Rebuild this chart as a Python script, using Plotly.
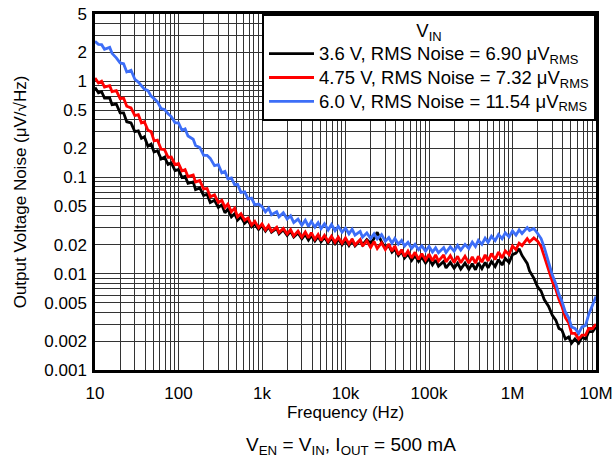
import plotly.graph_objects as go

# E24 frequency grid (Hz): mantissas within a decade, and decades
mantissas = [1.0, 1.1, 1.2, 1.3, 1.5, 1.6, 1.8, 2.0, 2.2, 2.4, 2.7, 3.0,
             3.3, 3.6, 3.9, 4.3, 4.7, 5.1, 5.6, 6.2, 6.8, 7.5, 8.2, 9.1]
decades = [1e1, 1e2, 1e3, 1e4, 1e5, 1e6]
freq_hz = [round(m * d, 6) for d in decades for m in mantissas] + [1e7]

noise_3v6 = [
    0.86, 0.76, 0.78, 0.67, 0.67, 0.57, 0.58, 0.47, 0.47, 0.38, 0.37, 0.3,
    0.305, 0.255, 0.265, 0.212, 0.222, 0.184, 0.19, 0.156, 0.163, 0.137, 0.142, 0.118,
    0.121, 0.1, 0.103, 0.087, 0.09, 0.075, 0.078, 0.065, 0.067, 0.055, 0.058, 0.049,
    0.052, 0.043, 0.047, 0.039, 0.042, 0.036, 0.039, 0.0335, 0.036, 0.0307, 0.0328, 0.0288,
    0.0318, 0.0278, 0.0307, 0.027, 0.0296, 0.026, 0.0286, 0.025, 0.0276, 0.0241, 0.0266, 0.0231,
    0.0256, 0.0224, 0.025, 0.0219, 0.0244, 0.0215, 0.0239, 0.021, 0.0234, 0.0205, 0.0229, 0.02,
    0.0224, 0.0196, 0.0221, 0.0195, 0.0222, 0.0199, 0.0226, 0.0206, 0.0232, 0.027, 0.0215, 0.0185,
    0.0196, 0.0168, 0.018, 0.0155, 0.017, 0.0146, 0.016, 0.0138, 0.0155, 0.0134, 0.0149, 0.0129,
    0.0144, 0.0124, 0.0139, 0.012, 0.0134, 0.0115, 0.0131, 0.0114, 0.0129, 0.0112, 0.0129, 0.0111,
    0.0127, 0.011, 0.0129, 0.0113, 0.0131, 0.0115, 0.0134, 0.0119, 0.014, 0.0123, 0.0144, 0.0131,
    0.0158, 0.0164, 0.0182, 0.0155, 0.0128, 0.0107, 0.009, 0.0073, 0.0066, 0.0054, 0.0046, 0.0037,
    0.0033, 0.0027, 0.0026, 0.0021, 0.0022, 0.0019, 0.0021, 0.0019, 0.0022, 0.0021, 0.0025, 0.0025,
    0.0028,
]

noise_4v75 = [
    1.08, 0.96, 1.0, 0.87, 0.9, 0.78, 0.8, 0.66, 0.67, 0.55, 0.53, 0.44,
    0.45, 0.37, 0.38, 0.31, 0.3, 0.24, 0.245, 0.197, 0.195, 0.162, 0.163, 0.136,
    0.14, 0.117, 0.121, 0.102, 0.106, 0.09, 0.093, 0.076, 0.077, 0.063, 0.066, 0.055,
    0.058, 0.049, 0.053, 0.044, 0.048, 0.039, 0.042, 0.036, 0.038, 0.032, 0.035, 0.03,
    0.033, 0.0285, 0.0318, 0.0276, 0.0305, 0.0268, 0.0296, 0.0258, 0.0287, 0.0247, 0.0277, 0.024,
    0.0272, 0.0236, 0.0268, 0.0228, 0.0256, 0.0222, 0.0251, 0.0216, 0.0246, 0.0212, 0.024, 0.0207,
    0.0236, 0.0204, 0.023, 0.0199, 0.0226, 0.0194, 0.022, 0.0188, 0.0216, 0.0183, 0.021, 0.0179,
    0.0204, 0.0172, 0.0194, 0.0158, 0.0178, 0.0151, 0.0172, 0.0146, 0.0167, 0.0141, 0.0162, 0.0139,
    0.016, 0.0136, 0.0157, 0.0135, 0.0157, 0.0133, 0.0154, 0.0131, 0.0152, 0.013, 0.0152, 0.0129,
    0.015, 0.0129, 0.0152, 0.0132, 0.0157, 0.0136, 0.0162, 0.0141, 0.0168, 0.0146, 0.0173, 0.0158,
    0.0194, 0.0178, 0.0208, 0.0196, 0.0232, 0.0214, 0.0236, 0.0218, 0.0192, 0.0152, 0.0112, 0.0083,
    0.0069, 0.0054, 0.0046, 0.0035, 0.0031, 0.0024, 0.0024, 0.0021, 0.0023, 0.0023, 0.0027, 0.0027,
    0.003,
]

noise_6v0 = [
    2.6, 2.42, 2.4, 2.15, 2.25, 1.95, 1.75, 1.55, 1.52, 1.25, 1.3, 1.05,
    0.98, 0.9, 0.83, 0.8, 0.7, 0.66, 0.61, 0.52, 0.51, 0.46, 0.43, 0.37,
    0.37, 0.31, 0.32, 0.27, 0.25, 0.215, 0.205, 0.17, 0.17, 0.158, 0.133, 0.136,
    0.112, 0.116, 0.097, 0.099, 0.084, 0.085, 0.07, 0.071, 0.06, 0.061, 0.052, 0.053,
    0.05, 0.044, 0.048, 0.041, 0.044, 0.039, 0.043, 0.037, 0.04, 0.034, 0.037, 0.032,
    0.036, 0.031, 0.035, 0.0305, 0.034, 0.0295, 0.033, 0.0285, 0.0325, 0.028, 0.031, 0.027,
    0.0298, 0.026, 0.029, 0.0252, 0.0275, 0.024, 0.0265, 0.0232, 0.026, 0.023, 0.0255, 0.0218,
    0.0238, 0.0208, 0.0233, 0.0203, 0.0222, 0.0194, 0.0212, 0.0184, 0.0202, 0.0178, 0.0195, 0.0172,
    0.0192, 0.0168, 0.0186, 0.0165, 0.0187, 0.0166, 0.0191, 0.0172, 0.0197, 0.0176, 0.0202, 0.0183,
    0.0213, 0.0192, 0.0223, 0.0202, 0.0234, 0.0212, 0.0245, 0.0221, 0.0256, 0.0231, 0.0266, 0.0241,
    0.0278, 0.0252, 0.0285, 0.0262, 0.0302, 0.0282, 0.0296, 0.0262, 0.0232, 0.0188, 0.0132, 0.0097,
    0.0079, 0.0061, 0.0052, 0.004, 0.0035, 0.0028, 0.0027, 0.0024, 0.0028, 0.0029, 0.0038, 0.0047,
    0.0058,
]

series_names = [
    "3.6 V, RMS Noise = 6.90 μV<sub>RMS</sub>",
    "4.75 V, RMS Noise = 7.32 μV<sub>RMS</sub>",
    "6.0 V, RMS Noise = 11.54 μV<sub>RMS</sub>",
]
series_colors = ["#000000", "#FF0000", "#3D6EF7"]
legend_title = "V<sub>IN</sub>"

x_tick_vals = [10, 100, 1e3, 1e4, 1e5, 1e6, 1e7]
x_tick_text = ["10", "100", "1k", "10k", "100k", "1M", "10M"]
y_tick_vals = [0.001, 0.002, 0.005, 0.01, 0.02, 0.05, 0.1, 0.2, 0.5, 1, 2, 5]
y_tick_text = ["0.001", "0.002", "0.005", "0.01", "0.02", "0.05", "0.1", "0.2", "0.5", "1", "2", "5"]

digits = [1, 2, 3, 4, 5, 6, 7, 8, 9]
x_minor = [d * 10 ** e for e in range(1, 7) for d in digits] + [1e7]
y_minor = [d * 10.0 ** e for e in range(-3, 1) for d in digits if d * 10.0 ** e <= 5]

FONT = "Liberation Sans, Arial, sans-serif"
GRID = "#333333"
BIG = "<span style='font-size:18.5px'>{}</span>"

fig = go.Figure()
for vals, name, col in zip([noise_3v6, noise_4v75, noise_6v0], series_names, series_colors):
    fig.add_trace(go.Scatter(x=freq_hz, y=vals, mode="lines", name=BIG.format(name),
                             line=dict(color=col, width=2.8)))

fig.update_layout(
    width=612, height=460,
    margin=dict(l=95, r=16, t=14, b=90),
    paper_bgcolor="white", plot_bgcolor="white",
    font=dict(family=FONT, size=17, color="black"),
    showlegend=True,
    legend=dict(
        x=1, y=1, xanchor="right", yanchor="top",
        bgcolor="white", bordercolor="black", borderwidth=2,
        font=dict(family=FONT, size=16, color="black"),
        title=dict(text=BIG.format(legend_title), side="top center",
                   font=dict(family=FONT, size=16, color="black")),
        tracegroupgap=0,
        itemwidth=45,
    ),
    xaxis=dict(
        type="log", range=[1, 7], automargin=False,
        tickmode="array", tickvals=x_tick_vals, ticktext=x_tick_text,
        ticks="", ticklabelstandoff=6, ticklabeloverflow="allow",
        showgrid=True, gridcolor=GRID, gridwidth=1,
        minor=dict(tickmode="array", tickvals=x_minor, showgrid=True, gridcolor=GRID, gridwidth=1, ticks=""),
        showline=True, linecolor="black", linewidth=2.5, mirror=True,
        zeroline=False,
        title=dict(text="Frequency (Hz)", standoff=1, font=dict(family=FONT, size=17)),
    ),
    yaxis=dict(
        type="log", range=[-3, 0.69898], automargin=False,
        tickmode="array", tickvals=y_tick_vals, ticktext=y_tick_text,
        ticks="", ticklabelstandoff=2, ticklabeloverflow="allow",
        showgrid=True, gridcolor=GRID, gridwidth=1,
        minor=dict(tickmode="array", tickvals=y_minor, showgrid=True, gridcolor=GRID, gridwidth=1, ticks=""),
        showline=True, linecolor="black", linewidth=2.5, mirror=True,
        zeroline=False,
        title=dict(text="Output Voltage Noise (μV/√Hz)", standoff=14, font=dict(family=FONT, size=17)),
    ),
    annotations=[dict(
        text="V<sub>EN</sub> = V<sub>IN</sub>, I<sub>OUT</sub> = 500 mA",
        xref="paper", yref="paper", x=0.51, y=-0.213,
        xanchor="center", yanchor="middle", showarrow=False,
        font=dict(family=FONT, size=19, color="black"),
    )],
)

# Remove the page's default 8 px body margin so the 612x460 figure fills the window.
fig.write_html(
    "out.html",
    config={"displayModeBar": False},
    post_script="document.body.style.margin='0';"
                "document.body.style.overflow='hidden';"
                "document.documentElement.style.overflow='hidden';",
)
